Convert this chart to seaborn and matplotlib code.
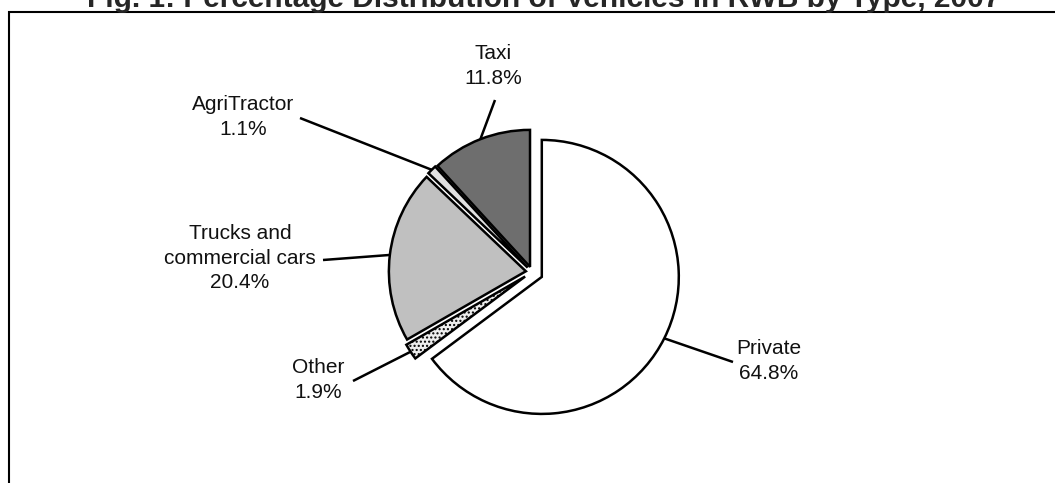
import numpy as np
import seaborn as sns
import matplotlib.pyplot as plt
from matplotlib.patches import Rectangle

# Vehicle shares (%), clockwise from 12 o'clock
categories = ['Private', 'Other', 'Trucks and\ncommercial cars', 'AgriTractor', 'Taxi']
shares = [64.8, 1.9, 20.4, 1.1, 11.8]
colors = ['#ffffff', '#eeeeee', '#c0c0c0', '#e2e2e2', '#6e6e6e']
explode = [0.08, 0.06, 0.045, 0.045, 0.04]

title = 'Fig. 1: Percentage Distribution of Vehicles in RWB by Type, 2007'

# label placement (pixels, y measured from top) and where each leader line ends
label_pos = [(769, 361), (318, 380), (240, 258), (243, 117), (493, 66)]
leader_end = [(733, 362), (353, 381), (323, 260), (300, 118), (495, 100)]

W, H = 1055, 483
R = 137

sns.set_theme(style='white')
plt.rcParams['font.family'] = ['Liberation Sans', 'DejaVu Sans']

fig = plt.figure(figsize=(W / 100, H / 100), dpi=100)
fig.patch.set_facecolor('white')
ax = fig.add_axes([0, 0, 1, 1])

# pie explode is in data units here, so scale the fractions by the radius
wedges, _ = ax.pie(shares, explode=[e * R for e in explode], colors=colors,
                   startangle=90, counterclock=False, center=(532, H - 272),
                   radius=R, wedgeprops=dict(edgecolor='black', linewidth=1.8))
wedges[1].set_hatch('....')

ax.set_xlim(0, W)
ax.set_ylim(0, H)
ax.set_aspect('equal')
ax.axis('off')

# labels with leader lines starting at each wedge's outer mid-point
for w, cat, val, (lx, ly), (ex, ey) in zip(wedges, categories, shares, label_pos, leader_end):
    mid = np.deg2rad((w.theta1 + w.theta2) / 2)
    sx = w.center[0] + w.r * np.cos(mid)
    sy = w.center[1] + w.r * np.sin(mid)
    ax.plot([sx, ex], [sy, H - ey], color='black', lw=1.8, solid_capstyle='butt')
    ax.text(lx, H - ly, f'{cat}\n{val:.1f}%', ha='center', va='center',
            fontsize=15, linespacing=1.35, color='#111111')

# outer frame (runs off the right and bottom edges like the source)
fig.patches.append(Rectangle((8.7 / W, -0.1), 2, (H - 12) / H + 0.1,
                             transform=fig.transFigure, fill=False,
                             edgecolor='black', linewidth=1.5))

fig.text(544 / W, (H - 7) / H, title, ha='center', va='baseline',
         fontsize=21.5, fontweight='bold')

fig.savefig('out.png', dpi=100)
